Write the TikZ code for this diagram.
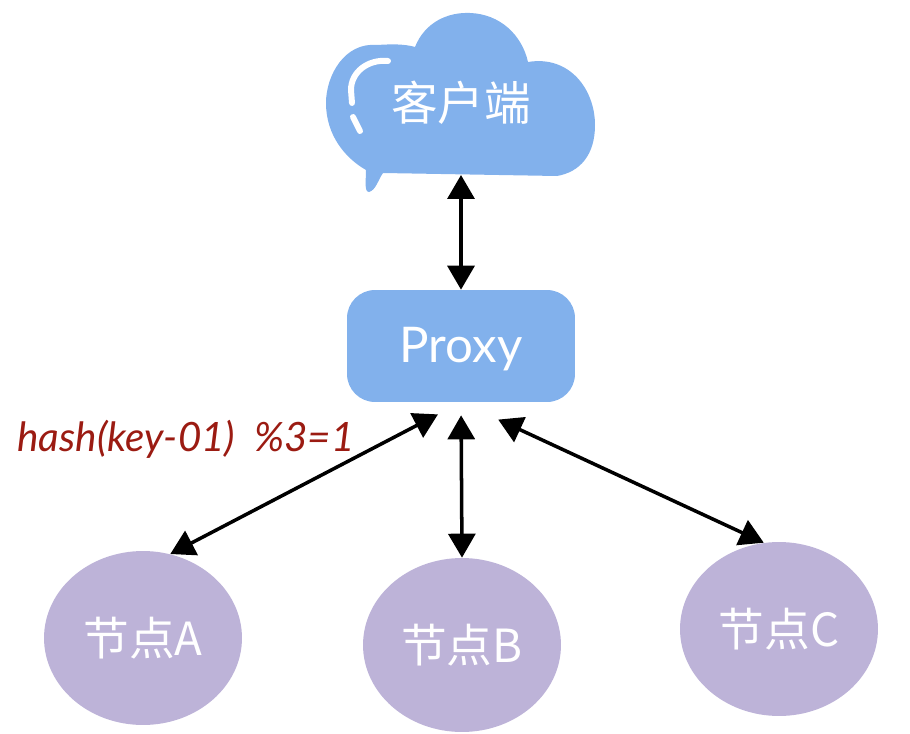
\documentclass[tikz,border=0pt]{standalone}
\usepackage{fontspec}
\usepackage{tikz}
\usetikzlibrary{arrows.meta,shapes.geometric}
\newfontfamily\cjk{Noto Sans CJK SC}
\newfontfamily\hand{Lato}
\definecolor{cloudblue}{HTML}{82B1EC}
\definecolor{nodepurple}{HTML}{BDB3D8}
\definecolor{hashred}{HTML}{9B1B12}
\tikzset{
	shard/.style={ellipse,fill=nodepurple,minimum width=3.96cm,minimum height=3.48cm,inner sep=0pt,text=white,font=\cjk\fontsize{26}{30}\selectfont},
	link/.style={<->,line width=2pt,color=black}
}

\begin{document}
\begin{tikzpicture}[line cap=round,line join=round,>={Triangle[length=4.8mm,width=5.4mm]},x=0.02cm,y=-0.02cm]
	\useasboundingbox (0,0) rectangle (910,734);
	
	\fill[color=cloudblue] (415,47) .. controls (425,22) and (448,12) .. (470,13) .. controls (500,14) and (522,35) .. (528,62) .. controls (570,55) and (595,90) .. (595,125) .. controls (595,155) and (580,172) .. (557,176) -- (383,173) .. controls (378,180) and (376,190) .. (369,192) .. controls (364,192) and (366,180) .. (366,170) .. controls (345,158) and (326,135) .. (326,103) .. controls (326,75) and (345,42) .. (377,45) .. controls (392,44) and (405,44) .. (415,47) -- cycle;
	
	\draw[color=white,line width=3.4pt] (388,61) .. controls (368,59) and (351,72) .. (351,90) -- (352,103);
	\draw[color=white,line width=3.4pt] (353,117) -- (360,131);
	
	\node[text=white,font=\cjk\fontsize{26.5}{30}\selectfont] (client) at (461,103) {客户端};
	\coordinate (cloudfoot) at (461,175);
	
	\node[rectangle,rounded corners=0.56cm,fill=cloudblue,minimum width=4.56cm,minimum height=2.24cm,inner sep=0pt] (proxy) at (461,346) {};
	\node[text=white,font=\hand\fontsize{28}{30}\selectfont] (proxytext) at (461,349) {Proxy};
	
	\node[shard] (nodeA) at (143,638) {节点A};
	\node[shard] (nodeB) at (462,645) {节点B};
	\node[shard] (nodeC) at (779,629) {节点C};
	
	\draw[link] (cloudfoot) -- (proxy.north);
	\draw[link,shorten <=0.52cm] (proxy.south) -- (nodeA.72);
	\draw[link,shorten <=0.26cm] (proxy.south) -- (nodeB.north);
	\draw[link,shorten <=0.82cm] (proxy.south) -- (nodeC.100);
	
	\node[text=hashred,font=\hand\itshape\fontsize{23}{26}\selectfont] (hashlabel) at (186,439) {hash(key-01)\ \ \%3=1};
\end{tikzpicture}
\end{document}
